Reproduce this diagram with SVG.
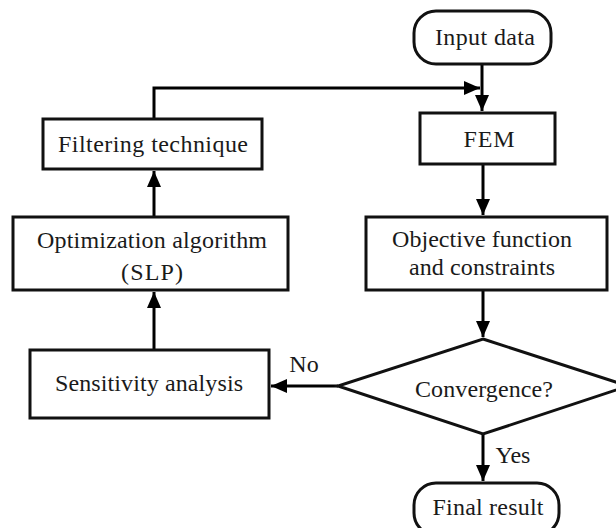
<svg xmlns="http://www.w3.org/2000/svg" width="616" height="528" viewBox="0 0 616 528">
<style>
.box{fill:#fff;stroke:#111;stroke-width:3}
.t{font-family:'Liberation Serif','DejaVu Serif',serif;font-size:24px;fill:#1a1a1a;text-anchor:middle}
.c{fill:none;stroke:#000;stroke-width:3}
</style>
<defs>
<marker id="ah" markerUnits="userSpaceOnUse" markerWidth="18" markerHeight="14" refX="16" refY="7" orient="auto">
<path d="M0,0 L16,7 L0,14 Z" fill="#000"/>
</marker>
</defs>
<rect width="616" height="528" fill="#fff"/>
<g id="connectors">
<path class="c" d="M482,64 V111" marker-end="url(#ah)"/>
<path class="c" d="M154,119 V88 H480" marker-end="url(#ah)"/>
<path class="c" d="M483,164 V215" marker-end="url(#ah)"/>
<path class="c" d="M483,290 V337" marker-end="url(#ah)"/>
<path class="c" d="M338,386 H271" marker-end="url(#ah)"/>
<path class="c" d="M483,434 V481" marker-end="url(#ah)"/>
<path class="c" d="M154,350 V292" marker-end="url(#ah)"/>
<path class="c" d="M154,217 V171" marker-end="url(#ah)"/>
<text class="t" x="304" y="372">No</text>
<text class="t" x="513" y="463">Yes</text>
</g>
<g id="input">
<rect class="box" x="414" y="11" width="137" height="53" rx="22" ry="22"/>
<text class="t" x="485" y="45" textLength="100">Input data</text>
</g>
<g id="fem">
<rect class="box" x="420" y="113" width="135" height="51"/>
<text class="t" x="489" y="147" textLength="51">FEM</text>
</g>
<g id="filtering">
<rect class="box" x="43" y="119" width="219" height="50"/>
<text class="t" x="153" y="152" textLength="190">Filtering  technique</text>
</g>
<g id="optimization">
<rect class="box" x="13" y="217" width="275" height="73"/>
<text class="t" x="152" y="248" textLength="230">Optimization algorithm</text>
<text class="t" x="152" y="280" textLength="62">(SLP)</text>
</g>
<g id="objective">
<rect class="box" x="366" y="217" width="241" height="73"/>
<text class="t" x="482" y="247" textLength="180">Objective function</text>
<text class="t" x="482" y="275" textLength="146">and constraints</text>
</g>
<g id="convergence">
<polygon class="box" points="483,339 628,386 483,434 338,386"/>
<text class="t" x="484" y="397" textLength="138">Convergence?</text>
</g>
<g id="sensitivity">
<rect class="box" x="30" y="350" width="239" height="68"/>
<text class="t" x="149" y="391" textLength="188">Sensitivity analysis</text>
</g>
<g id="final">
<rect class="box" x="414" y="483" width="145" height="52" rx="22" ry="22"/>
<text class="t" x="488" y="515" textLength="111">Final result</text>
</g>
</svg>
